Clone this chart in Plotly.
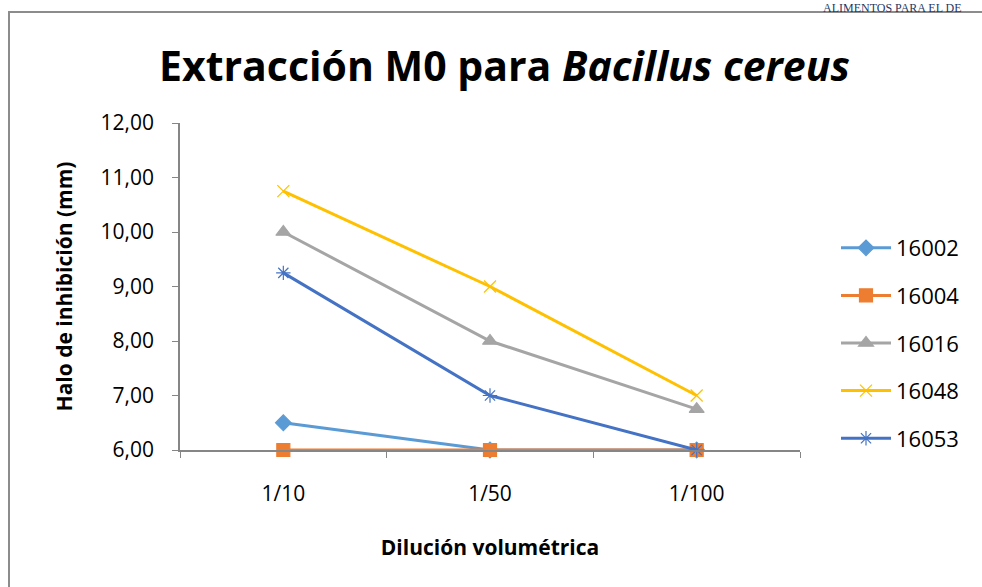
import plotly.graph_objects as go

# Dilution categories on the x axis
diluciones = ["1/10", "1/50", "1/100"]

# Inhibition halo (mm) per strain
cepa_16002 = [6.50, 6.00, 6.00]
cepa_16004 = [6.00, 6.00, 6.00]
cepa_16016 = [10.00, 8.00, 6.75]
cepa_16048 = [10.75, 9.00, 7.00]
cepa_16053 = [9.25, 7.00, 6.00]

series = [
    ("16002", cepa_16002, "#5B9BD5", "diamond", 12),
    ("16004", cepa_16004, "#ED7D31", "square", 13),
    ("16016", cepa_16016, "#A5A5A5", "triangle-up", 13),
    ("16048", cepa_16048, "#FFC000", "x-thin-open", 12),
    ("16053", cepa_16053, "#4472C4", "asterisk-open", 12),
]

W, H = 982, 587
L, R, T, B = 180, 182, 123, 137
pw, ph = W - L - R, H - T - B

def px_x(x):
    return (x - L) / pw

def px_y(y):
    return (H - B - y) / ph

FONT = "Open Sans"

fig = go.Figure()
for i, (name, vals, color, sym, size) in enumerate(series):
    fig.add_trace(go.Scatter(
        x=diluciones, y=vals, name=name, mode="lines+markers",
        legendgroup=name, cliponaxis=False,
        line=dict(color=color, width=3),
        marker=dict(symbol=sym, size=size, color=color,
                    line=dict(color=color, width=1.2)),
    ))

fig.update_layout(
    width=W, height=H,
    margin=dict(l=L, r=R, t=T, b=B, autoexpand=False),
    paper_bgcolor="white", plot_bgcolor="white",
    separators=",.",
    font=dict(family=FONT, color="#000000", size=21),
    showlegend=True,
    legend=dict(
        x=px_x(836), y=px_y(227), xanchor="left", yanchor="top",
        font=dict(size=22, family=FONT), tracegroupgap=16,
        bgcolor="rgba(0,0,0,0)", itemwidth=50,
    ),
    xaxis=dict(
        type="category", range=[-0.5, 2.5],
        showline=True, linecolor="#868686", linewidth=1.5,
        ticks="outside", tickson="boundaries", ticklen=6, tickcolor="#868686",
        showgrid=False, zeroline=False, ticklabelstandoff=24,
        tickfont=dict(size=21, family=FONT),
        title=dict(text="<b>Dilución volumétrica</b>", font=dict(size=21, family=FONT), standoff=34),
    ),
    yaxis=dict(
        range=[6, 12], dtick=1, tickformat=".2f",
        showline=True, linecolor="#868686", linewidth=1.5,
        ticks="outside", ticklen=6, tickcolor="#868686",
        showgrid=False, zeroline=False, ticklabelstandoff=14,
        tickfont=dict(size=21, family=FONT),
        title=dict(text="<b>Halo de inhibición (mm)</b>", font=dict(size=21, family=FONT), standoff=22),
    ),
    shapes=[dict(
        type="rect", xref="paper", yref="paper",
        x0=px_x(9), x1=px_x(990), y0=px_y(12), y1=px_y(600),
        line=dict(color="#8C8C8C", width=2), fillcolor="rgba(0,0,0,0)", layer="below",
    )],
    annotations=[
        dict(text="<b>Extracción M0 para <i>Bacillus cereus</i></b>",
             xref="paper", yref="paper", x=px_x(504), y=px_y(65),
             xanchor="center", yanchor="middle", showarrow=False,
             font=dict(size=41, family=FONT, color="#000000")),
        dict(text="ALIMENTOS PARA EL DE",
             xref="paper", yref="paper", x=px_x(821), y=px_y(-1),
             xanchor="left", yanchor="top", showarrow=False,
             font=dict(size=12, family="Liberation Serif", color="#1F3864")),
    ],
)

fig.write_html("out.html")
